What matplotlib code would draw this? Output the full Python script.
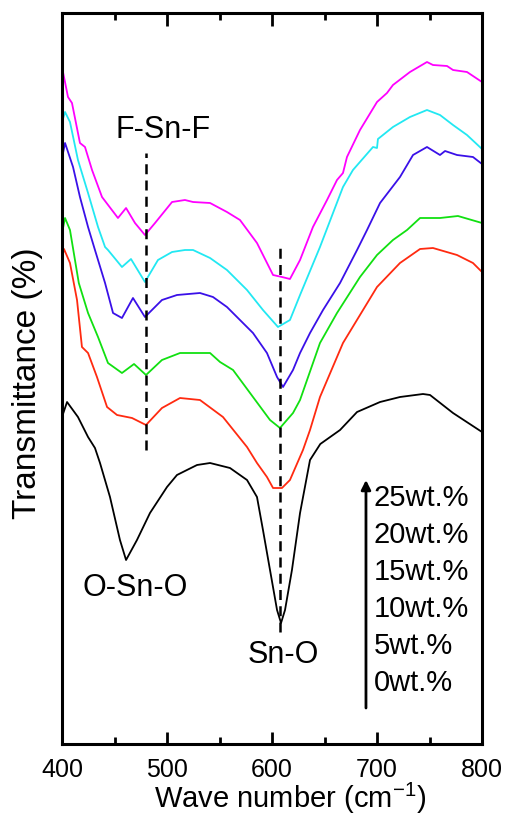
import matplotlib
matplotlib.use("Agg")
import matplotlib.pyplot as plt
from matplotlib.ticker import MultipleLocator

plt.rcParams['font.family'] = ['Liberation Sans', 'DejaVu Sans']
plt.rcParams['mathtext.fontset'] = 'custom'
plt.rcParams['mathtext.rm'] = 'Liberation Sans'

# wavenumber (cm^-1) and transmittance (arbitrary units, offset) for each loading
wn_25 = [400, 405.7, 409.5, 417.1, 421.9, 428.6, 438.1, 453.3, 461, 469.5, 479, 488.6, 504.8, 517.1,
         524.8, 541, 557.1, 569.5, 585.7, 601, 609.5, 617.1, 626.7, 639, 652.4, 661.9, 667.6, 671.4,
         683.8, 700, 709.5, 715.2, 731.4, 747.6, 753.3, 766.7, 772.4, 785.7, 800]
t_25 = [677, 647, 641, 601, 597, 574, 547, 526, 536, 521, 509, 521, 542, 544, 542, 541, 532, 524, 501,
        469, 467, 465, 484, 517, 544, 564, 571, 587, 614, 642, 651, 659, 672, 682, 679, 678, 674, 672, 662]

wn_20 = [400, 402.9, 407.6, 415.2, 424.8, 434.3, 441, 443.8, 457.1, 465.7, 479, 491.4, 504.8, 517.1,
         524.8, 541, 557.1, 576.2, 591.4, 605.7, 617.1, 626.7, 645.7, 658.1, 667.6, 677.1, 696.2, 700,
         700.9, 715.2, 731.4, 747.6, 760, 772.4, 785.7, 800]
t_20 = [622, 632, 622, 584, 551, 517, 497, 494, 477, 485, 462, 484, 492, 494, 494, 486, 474, 454, 434,
        417, 424, 449, 497, 531, 557, 574, 597, 596, 605, 617, 627, 634, 629, 619, 609, 595]

wn_15 = [400, 402.9, 410.5, 417.1, 424.8, 431.4, 441, 448.6, 457.1, 467.6, 479, 495.2, 509.5, 531.4,
         543.8, 557.1, 569.5, 581.9, 595.2, 604.8, 610.5, 620, 626.7, 636.2, 648.6, 664.8, 681, 690.5,
         702.9, 721.9, 734.3, 747.6, 760, 764.8, 776.2, 791.4, 800]
t_15 = [586, 601, 577, 547, 517, 494, 461, 431, 426, 446, 427, 444, 449, 451, 447, 437, 424, 411, 391,
        367, 357, 374, 391, 411, 434, 461, 494, 514, 541, 567, 589, 597, 589, 593, 589, 587, 580]

wn_10 = [400, 402.9, 407.6, 416, 424.8, 434.3, 443.8, 457.1, 468.6, 480, 495.2, 512.4, 541, 550.5,
         562.9, 581.9, 598.1, 607.6, 620, 626.7, 645.7, 661.9, 683.8, 700, 715.2, 728.6, 741, 760,
         777.1, 800]
t_10 = [511, 526, 514, 461, 431, 407, 381, 371, 380, 369, 384, 391, 391, 382, 374, 347, 324, 316, 331,
        344, 401, 431, 467, 489, 504, 514, 526, 526, 528, 521]

wn_5 = [400, 401.9, 407.6, 414.3, 419, 424.8, 433.3, 442.9, 452.4, 466.7, 480, 495.2, 512.4, 531.4,
        553.3, 576.2, 585.7, 595.2, 601, 609.5, 617.1, 629.5, 636.2, 645.7, 667.6, 700, 721.9, 741,
        753.3, 776.2, 791.4, 800]
t_5 = [486, 495, 481, 444, 397, 391, 367, 337, 329, 326, 319, 336, 346, 344, 327, 297, 281, 267, 256,
       256, 264, 294, 314, 347, 401, 457, 481, 495, 496, 489, 481, 472]

wn_0 = [400, 404.8, 415.2, 424.8, 431.4, 436.2, 445.7, 455.2, 461, 471.4, 483.8, 500, 509.5, 519,
        528.6, 541, 560, 576.2, 585.7, 591.4, 598.1, 604.8, 608.6, 612.4, 619, 626.7, 636.2, 646,
        664.8, 681, 702.9, 721.9, 743.8, 750.5, 772.4, 800]
t_0 = [327, 342, 327, 307, 296, 281, 247, 204, 184, 204, 231, 257, 269, 274, 279, 281, 276, 264, 247,
       214, 174, 134, 121, 134, 174, 231, 284, 300, 314, 332, 342, 347, 350, 349, 331, 312]

series_labels = ["25wt.%", "20wt.%", "15wt.%", "10wt.%", "5wt.%", "0wt.%"]
series_colors = ["#FF00FF", "#22E8F2", "#3A10E8", "#11E011", "#FF2A10", "#000000"]

fig = plt.figure(figsize=(5.05, 8.14), dpi=100)
ax = fig.add_axes([62/505, 1-744/814, 420/505, 731/814])

series = [(wn_25, t_25), (wn_20, t_20), (wn_15, t_15), (wn_10, t_10), (wn_5, t_5), (wn_0, t_0)]
for (x, y), c in zip(series, series_colors):
    ax.plot(x, y, color=c, lw=1.3)

# guide lines
ax.plot([480, 480], [294, 591], color='black', lw=1.8, ls=(0, (4, 2.5)))
ax.plot([608, 608], [112, 501], color='black', lw=1.8, ls=(0, (4, 2.5)))

ax.text(496, 614, "F-Sn-F", fontsize=22, ha='center', va='center')
ax.text(469.5, 156, "O-Sn-O", fontsize=22, ha='center', va='center')
ax.text(610.5, 89, "Sn-O", fontsize=22, ha='center', va='center')

ax.annotate("", xy=(689.5, 264), xytext=(689.5, 36),
            arrowprops=dict(arrowstyle='-|>', color='black', lw=2, mutation_scale=14,
                            shrinkA=0, shrinkB=0))
for i, lab in enumerate(series_labels):
    ax.text(697, 246 - 37*i, lab, fontsize=21, ha='left', va='center')

ax.set_xlim(400, 800)
ax.set_ylim(0, 731)
ax.set_yticks([])
ax.xaxis.set_major_locator(MultipleLocator(100))
ax.xaxis.set_minor_locator(MultipleLocator(50))
ax.tick_params(axis='x', which='both', direction='in', top=True, bottom=True, width=2)
ax.tick_params(axis='x', which='major', length=9, labelsize=18, pad=10)
ax.tick_params(axis='x', which='minor', length=5)
for s in ax.spines.values():
    s.set_linewidth(2.2)

fig.text(290/505, 1-798/814, "Wave number (cm$^{\\mathregular{-1}}$)", fontsize=21,
         ha='center', va='center')
fig.text(28/505, 1-383/814, "Transmittance (%)", rotation=90, fontsize=24,
         ha='center', va='center')

fig.savefig("out.png", dpi=100)
